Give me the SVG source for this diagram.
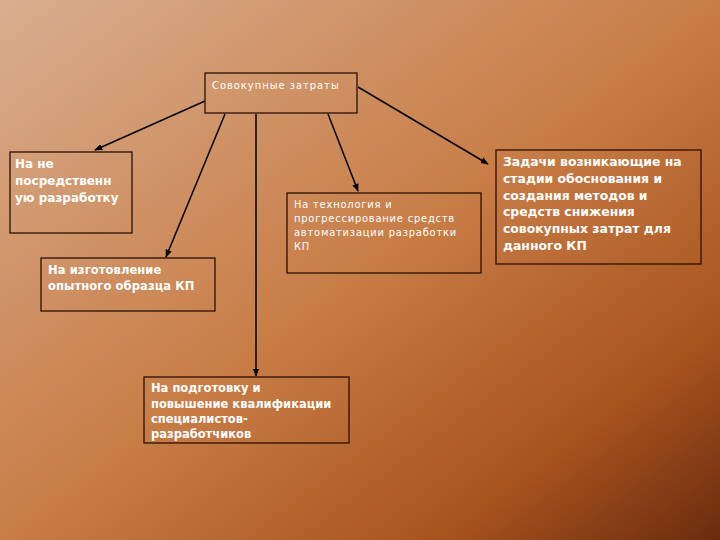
<svg xmlns="http://www.w3.org/2000/svg" width="720" height="540" viewBox="0 0 720 540">
<defs>
<linearGradient id="bg" x1="0" y1="0" x2="1" y2="1">
<stop offset="0" stop-color="#d9ae90"/>
<stop offset="0.5" stop-color="#c87d46"/>
<stop offset="0.8" stop-color="#a9541f"/>
<stop offset="1" stop-color="#6a2c0e"/>
</linearGradient>
<marker id="ah" viewBox="0 0 10 10" refX="9" refY="5" markerWidth="8" markerHeight="8" orient="auto" markerUnits="userSpaceOnUse">
<path d="M0,1 L10,5 L0,9 z" fill="#000"/>
</marker>
<style>
.box{fill:none;stroke:#2a1005;stroke-width:1.3}
.t{fill:#fff;font-family:"DejaVu Sans","Liberation Sans",sans-serif}
.b{font-weight:bold}
.c{font-family:"DejaVu Sans Condensed","DejaVu Sans","Liberation Sans",sans-serif}
.ln{stroke:#000;stroke-width:1.5;fill:none;marker-end:url(#ah)}
</style>
</defs>
<rect x="0" y="0" width="720" height="540" fill="url(#bg)"/>
<g id="connectors">
<line class="ln" x1="205" y1="101" x2="95" y2="150"/>
<line class="ln" x1="225" y1="114" x2="166" y2="257"/>
<line class="ln" x1="256" y1="114" x2="256" y2="376"/>
<line class="ln" x1="328" y1="114" x2="358" y2="191"/>
<line class="ln" x1="358" y1="87" x2="488" y2="164"/>
</g>
<g id="n-total">
<rect class="box" x="205" y="73" width="152" height="40"/>
<text class="t c" x="212" y="89" font-size="11" letter-spacing="1">Совокупные затраты</text>
</g>
<g id="n-indirect">
<rect class="box" x="10" y="152" width="122" height="81"/>
<text class="t b" font-size="12"><tspan x="15" y="168">На не</tspan><tspan x="15" y="185">посредственн</tspan><tspan x="15" y="202">ую разработку</tspan></text>
</g>
<g id="n-tech">
<rect class="box" x="287" y="193" width="194" height="80"/>
<text class="t c" font-size="11" letter-spacing="0.8"><tspan x="294" y="208">На технология и</tspan><tspan x="294" y="222">прогрессирование средств</tspan><tspan x="294" y="236">автоматизации разработки</tspan><tspan x="294" y="250">КП</tspan></text>
</g>
<g id="n-tasks">
<rect class="box" x="496" y="150" width="205" height="114"/>
<text class="t b" font-size="12.4"><tspan x="503" y="166">Задачи возникающие на</tspan><tspan x="503" y="183">стадии обоснования и</tspan><tspan x="503" y="200">создания методов и</tspan><tspan x="503" y="216">средств снижения</tspan><tspan x="503" y="233">совокупных затрат для</tspan><tspan x="503" y="250">данного КП</tspan></text>
</g>
<g id="n-prototype">
<rect class="box" x="41" y="258" width="174" height="53"/>
<text class="t b" font-size="11.5" letter-spacing="0.1"><tspan x="48" y="274">На изготовление</tspan><tspan x="48" y="290">опытного образца КП</tspan></text>
</g>
<g id="n-training">
<rect class="box" x="144" y="377" width="205" height="66"/>
<text class="t b" font-size="11.5"><tspan x="151" y="392">На подготовку и</tspan><tspan x="151" y="408">повышение квалификации</tspan><tspan x="151" y="423">специалистов-</tspan><tspan x="151" y="438">разработчиков</tspan></text>
</g>
</svg>
